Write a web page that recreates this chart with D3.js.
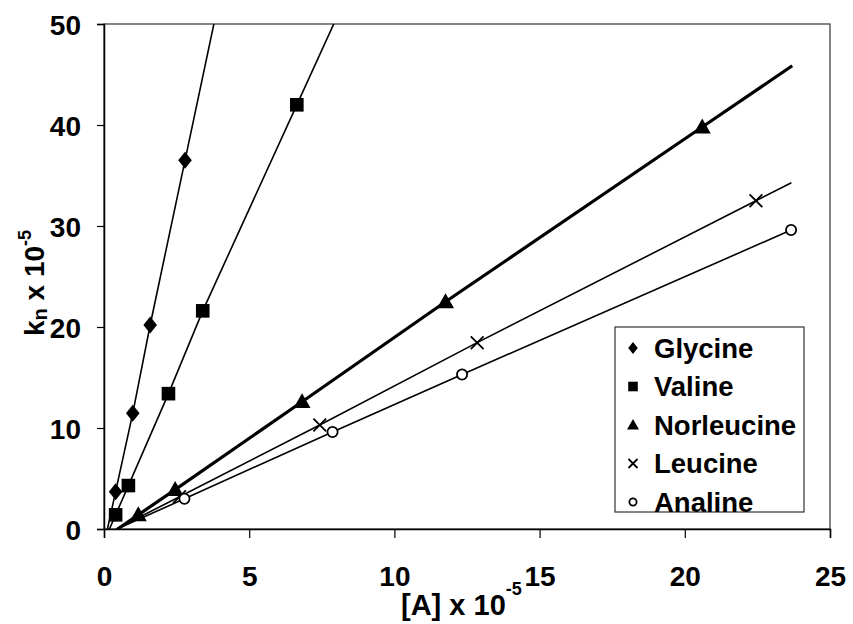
<!DOCTYPE html>
<html>
<head>
<meta charset="utf-8">
<script src="https://cdn.jsdelivr.net/npm/d3@7"></script>
<style>
  body { margin: 0; background: #fff; }
  svg { display: block; font-family: "Liberation Sans", Arial, sans-serif; }
</style>
</head>
<body>
<svg id="chart" width="853" height="624"></svg>
<script>
// ---- data ----
const seriesNames = ["Glycine", "Valine", "Norleucine", "Leucine", "Analine"];
const glycineX = [0.40, 0.99, 1.59, 2.79];
const glycineY = [3.7, 11.45, 20.2, 36.5];
const valineX = [0.40, 0.84, 2.22, 3.40, 6.64];
const valineY = [1.4, 4.3, 13.4, 21.6, 42.0];
const norleucineX = [1.18, 2.45, 6.82, 11.76, 20.6];
const norleucineY = [1.4, 3.9, 12.6, 22.5, 39.8];
const leucineX = [2.6, 7.43, 12.85, 22.45];
const leucineY = [3.2, 10.3, 18.45, 32.5];
const analineX = [2.77, 7.87, 12.33, 23.66];
const analineY = [3.0, 9.6, 15.3, 29.6];
// x value up to which each trend line is extended (null = stop at last point)
const lineEndX = [5, 10, 23.7, 23.67, null];
const xTicks = [0, 5, 10, 15, 20, 25];
const yTicks = [0, 10, 20, 30, 40, 50];

const seriesX = [glycineX, valineX, norleucineX, leucineX, analineX];
const seriesY = [glycineY, valineY, norleucineY, leucineY, analineY];
const symbols = ["diamond", "square", "triangle", "cross", "circle"];
const widths = [1.6, 1.6, 3.2, 1.6, 1.6];

// ---- layout ----
const svg = d3.select("#chart");
const pL = 104, pR = 830, pT = 24, pB = 529;
const x = d3.scaleLinear().domain([0, 25]).range([pL, pR]);
const y = d3.scaleLinear().domain([0, 50]).range([pB, pT]);

svg.append("rect").attr("width", 853).attr("height", 624).attr("fill", "#fff");

svg.append("defs").append("clipPath").attr("id", "plotclip")
  .append("rect").attr("x", pL).attr("y", pT).attr("width", pR - pL).attr("height", pB - pT);

// frame
svg.append("rect").attr("x", pL).attr("y", pT).attr("width", pR - pL).attr("height", pB - pT)
  .attr("fill", "none").attr("stroke", "#333").attr("stroke-width", 1.2);

// axes
const xAxis = d3.axisBottom(x).tickValues(xTicks).tickSize(9).tickFormat(d3.format("d"));
const gx = svg.append("g").attr("transform", `translate(0,${pB})`).call(xAxis);
gx.select(".domain").attr("stroke", "#000").attr("stroke-width", 1.5);
gx.selectAll(".tick line").attr("stroke", "#000").attr("stroke-width", 1.2);
gx.selectAll(".tick text").attr("font-size", 28).attr("font-weight", "bold").attr("fill", "#000")
  .attr("dy", "0").attr("y", 57);

const yAxis = d3.axisLeft(y).tickValues(yTicks).tickSize(7).tickFormat(d3.format("d"));
const gy = svg.append("g").attr("transform", `translate(${pL},0)`).call(yAxis);
gy.select(".domain").attr("stroke", "#000").attr("stroke-width", 1.5);
gy.selectAll(".tick line").attr("stroke", "#000").attr("stroke-width", 1.2);
gy.selectAll(".tick text").attr("font-size", 28).attr("font-weight", "bold").attr("fill", "#000")
  .attr("x", -23).attr("dy", "0.36em");

// axis titles
const xt = svg.append("text").attr("x", 401).attr("y", 615)
  .attr("font-size", 29).attr("font-weight", "bold").attr("fill", "#000");
xt.append("tspan").text("[A] x 10");
xt.append("tspan").attr("font-size", 18).attr("dy", -20).text("-5");

const yt = svg.append("text").attr("transform", "translate(44,336) rotate(-90)")
  .attr("font-size", 28).attr("font-weight", "bold").attr("fill", "#000");
yt.append("tspan").text("k");
yt.append("tspan").attr("font-size", 20).attr("dy", 3).text("n");
yt.append("tspan").attr("dy", -3).text(" x 10");
yt.append("tspan").attr("font-size", 18).attr("dy", -13).text("-5");

// ---- lines ----
const plot = svg.append("g").attr("clip-path", "url(#plotclip)");
const line = d3.line().x(d => x(d[0])).y(d => y(d[1]));

seriesNames.forEach((name, i) => {
  const xs = seriesX[i], ys = seriesY[i];
  const pts = xs.map((v, j) => [v, ys[j]]);
  const n = pts.length;
  const s0 = (pts[1][1] - pts[0][1]) / (pts[1][0] - pts[0][0]);
  const start = [pts[0][0] - pts[0][1] / s0, 0];
  const path = [start, ...pts];
  if (lineEndX[i] !== null) {
    const s1 = (pts[n - 1][1] - pts[n - 2][1]) / (pts[n - 1][0] - pts[n - 2][0]);
    const ex = lineEndX[i];
    path.push([ex, pts[n - 1][1] + s1 * (ex - pts[n - 1][0])]);
  }
  plot.append("path").datum(path).attr("d", line)
    .attr("fill", "none").attr("stroke", "#000").attr("stroke-width", widths[i])
    .attr("stroke-linejoin", "round");
});

// ---- markers ----
function drawMarker(g, type, cx, cy, s) {
  if (type === "diamond") {
    g.append("path").attr("d", `M${cx},${cy - s}L${cx + s * 0.8},${cy}L${cx},${cy + s}L${cx - s * 0.8},${cy}Z`).attr("fill", "#000");
  } else if (type === "square") {
    g.append("rect").attr("x", cx - s * 0.8).attr("y", cy - s * 0.8).attr("width", s * 1.6).attr("height", s * 1.6).attr("fill", "#000");
  } else if (type === "triangle") {
    g.append("path").attr("d", `M${cx},${cy - s}L${cx + s},${cy + s * 0.75}L${cx - s},${cy + s * 0.75}Z`).attr("fill", "#000");
  } else if (type === "cross") {
    g.append("path").attr("d", `M${cx - s * 0.75},${cy - s * 0.75}L${cx + s * 0.75},${cy + s * 0.75}M${cx - s * 0.75},${cy + s * 0.75}L${cx + s * 0.75},${cy - s * 0.75}`)
      .attr("stroke", "#000").attr("stroke-width", 1.8).attr("fill", "none");
  } else if (type === "circle") {
    g.append("circle").attr("cx", cx).attr("cy", cy).attr("r", s * 0.6).attr("fill", "#fff")
      .attr("stroke", "#000").attr("stroke-width", 1.8);
  }
}
const mk = svg.append("g");
seriesNames.forEach((name, i) => {
  seriesX[i].forEach((v, j) => drawMarker(mk, symbols[i], x(v), y(seriesY[i][j]), 8.5));
});

// ---- legend ----
const lg = svg.append("g");
lg.append("rect").attr("x", 615).attr("y", 327).attr("width", 189).attr("height", 185)
  .attr("fill", "#fff").attr("stroke", "#333").attr("stroke-width", 1.2);
seriesNames.forEach((name, i) => {
  const cy = 348 + i * 38.5;
  drawMarker(lg, symbols[i], 633, cy, 6);
  lg.append("text").attr("x", 654).attr("y", cy).attr("dy", "0.36em")
    .attr("font-size", 27.5).attr("font-weight", "bold").attr("fill", "#000").text(name);
});
</script>
</body>
</html>
